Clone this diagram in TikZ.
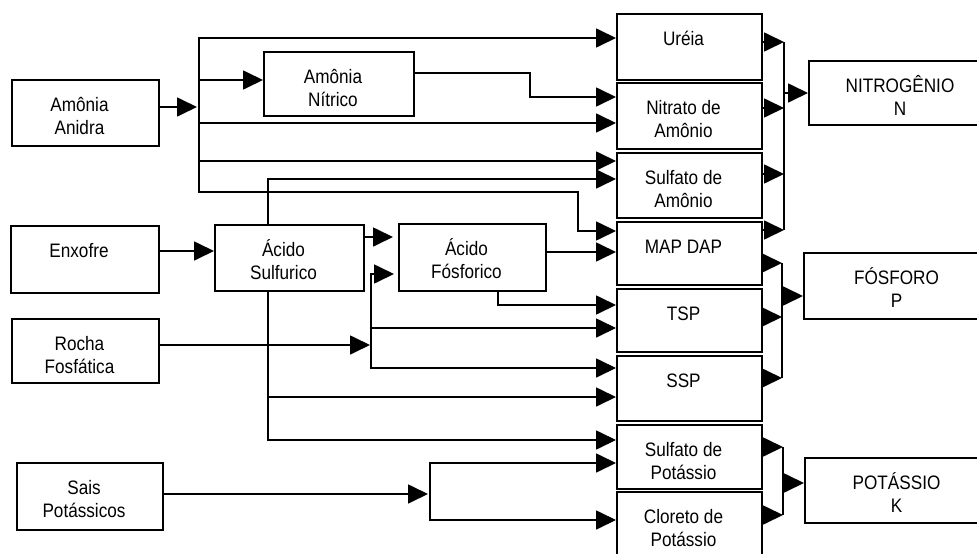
\documentclass[tikz,border=0pt]{standalone}
\usepackage{fontspec}
\setmainfont{Liberation Sans}[FakeStretch=0.88]
\usetikzlibrary{arrows.meta}
\tikzset{
  box/.style={draw, line width=2pt, rectangle, inner sep=0pt},
  txt/.style={anchor=north, inner sep=0pt, align=center, font=\fontsize{19.5}{23.5}\selectfont},
  conn/.style={line width=1.7pt, line join=miter},
  arr/.style={conn, -{Triangle[length=20pt,width=19pt]}},
  arrD/.style={conn, {Triangle[length=20pt,width=19pt]}-{Triangle[length=20pt,width=19pt]}}
}
% name, x1, y1, x2, y2, text
\newcommand\flowbox[6]{%
  \node[box, minimum width={(#4)-(#2)}, minimum height={(#5)-(#3)}] (#1) at ({((#2)+(#4))/2},{((#3)+(#5))/2}) {};
  \node[txt] (#1-t) at ({((#2)+(#4))/2-6},{(#3)+11}) {\rule{0pt}{20pt}#6};
}
\begin{document}
\begin{tikzpicture}[x=1pt,y=-1pt]
\fill[white] (0,0) rectangle (977,554);
\useasboundingbox (0,0) rectangle (977,554);

% left column
\flowbox{aa}{12}{80}{159}{146}{Amônia\\Anidra}
\flowbox{anit}{264}{52}{414}{116}{Amônia\\Nítrico}
\flowbox{enx}{11}{226}{159}{293}{Enxofre}
\flowbox{asulf}{215}{225}{364}{291}{Ácido\\Sulfurico}
\flowbox{afos}{399}{224}{546}{291}{Ácido\\Fósforico}
\flowbox{rocha}{12}{319}{159}{383}{Rocha\\Fosfática}
\flowbox{sais}{17}{463}{163}{530}{Sais\\Potássicos}

% middle column
\flowbox{ureia}{617}{14}{762}{80}{Uréia}
\flowbox{nitrato}{617}{83}{762}{149}{Nitrato de\\Amônio}
\flowbox{sulfam}{617}{153}{762}{218}{Sulfato de\\Amônio}
\flowbox{mapdap}{617}{222}{762}{285}{MAP DAP}
\flowbox{tsp}{617}{289}{762}{352}{TSP}
\flowbox{ssp}{617}{356}{762}{421}{SSP}
\flowbox{sulfpot}{617}{425}{762}{489}{Sulfato de\\Potássio}
\flowbox{clor}{617}{492}{762}{558}{Cloreto de\\Potássio}

% right column
\flowbox{nit}{809}{61}{1003}{125}{NITROGÊNIO\\N}
\flowbox{fos}{804}{253}{1001}{319}{FÓSFORO\\P}
\flowbox{pot}{805}{458}{1000}{523}{POTÁSSIO\\K}

% ammonia bus
\coordinate (nh3) at (199,107);
\coordinate (b1) at (199,38);
\coordinate (b2) at (199,192);
\coordinate (b3) at (578,192);
\coordinate (b4) at (578,231);
\coordinate (b5) at (199,80);
\coordinate (b6) at (199,123);
\coordinate (b7) at (199,161);
\draw[arr, shorten >=2pt] (aa.east |- nh3) -- (nh3);
\draw[arrD] (ureia.west |- b1) -- (b1) -- (b2) -- (b3) -- (b4) -- (mapdap.west |- b4);
\draw[arr] (b5) -- (anit.west |- b5);
\draw[arr] (b6) -- (nitrato.west |- b6);
\draw[arr] (b7) -- (sulfam.west |- b7);

% amonia nitrico -> nitrato
\coordinate (c1) at (530,73);
\coordinate (c2) at (530,97);
\draw[arr] (anit.east |- c1) -- (c1) -- (c2) -- (nitrato.west |- c2);

% acido sulfurico up -> sulfato de amonio
\coordinate (c3) at (268,179);
\draw[arr] (asulf.north -| c3) -- (c3) -- (sulfam.west |- c3);

% enxofre -> acido sulfurico
\coordinate (e1) at (159,251);
\draw[arr] (enx.east |- e1) -- (asulf.west |- e1);

% acido sulfurico -> acido fosforico
\coordinate (e2) at (364,237);
\draw[arr, shorten >=5pt] (asulf.east |- e2) -- (afos.west |- e2);

% rocha fosfatica
\coordinate (r1) at (371,345);
\coordinate (r2) at (371,274);
\coordinate (r3) at (371,368);
\coordinate (r4) at (371,328);
\draw[arr, shorten >=1pt] (rocha.east |- r1) -- (r1);
\draw[arrD, shorten <=4pt] (afos.west |- r2) -- (r2) -- (r3) -- (ssp.west |- r3);
\draw[arr] (r4) -- (tsp.west |- r4);

% acido sulfurico down
\coordinate (s1) at (268,440);
\coordinate (s2) at (268,397);
\draw[arr] (asulf.south -| s1) -- (s1) -- (sulfpot.west |- s1);
\draw[arr] (s2) -- (ssp.west |- s2);

% acido fosforico outputs
\coordinate (f1) at (498,305);
\coordinate (f2) at (546,252);
\draw[arr] (afos.south -| f1) -- (f1) -- (tsp.west |- f1);
\draw[arr] (afos.east |- f2) -- (mapdap.west |- f2);

% sais potassicos
\coordinate (k1) at (430,494);
\coordinate (k2) at (430,463);
\coordinate (k3) at (430,520);
\draw[arr, shorten >=2pt] (sais.east |- k1) -- (k1);
\draw[arrD] (sulfpot.west |- k2) -- (k2) -- (k3) -- (clor.west |- k3);

% nitrogen bus
\coordinate (n1) at (784,42);
\coordinate (n2) at (784,230);
\coordinate (n3) at (784,108);
\coordinate (n4) at (784,174);
\coordinate (n5) at (784,93);
\draw[conn] (n1) -- (n2);
\draw[arr] (ureia.east |- n1) -- (n1);
\draw[arr] (nitrato.east |- n3) -- (n3);
\draw[arr] (sulfam.east |- n4) -- (n4);
\draw[arr] (mapdap.east |- n2) -- (n2);
\draw[arr] (n5) -- (nit.west |- n5);

% phosphorus bus
\coordinate (p1) at (782,263);
\coordinate (p2) at (782,317);
\coordinate (p3) at (782,378);
\coordinate (p4) at (782,296);
\draw[conn] (p1) -- (p3);
\draw[arr] (mapdap.east |- p1) -- (p1);
\draw[arr] (tsp.east |- p2) -- (p2);
\draw[arr] (ssp.east |- p3) -- (p3);
\draw[arr] (p4) -- (fos.west |- p4);

% potassium bus
\coordinate (q1) at (783,447);
\coordinate (q2) at (783,515);
\coordinate (q3) at (783,483);
\draw[conn] (q1) -- (q2);
\draw[arr] (sulfpot.east |- q1) -- (q1);
\draw[arr] (clor.east |- q2) -- (q2);
\draw[arr] (q3) -- (pot.west |- q3);
\end{tikzpicture}
\end{document}
